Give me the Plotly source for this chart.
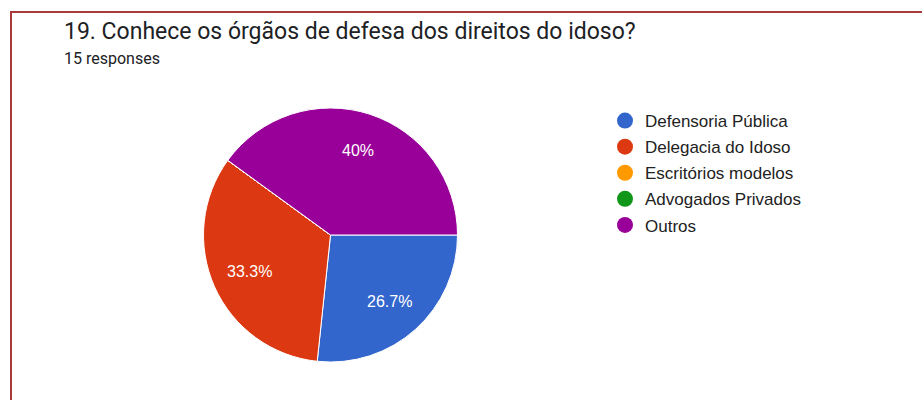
import math
import plotly.graph_objects as go

# Survey answers for question 19
labels = ["Defensoria Pública", "Delegacia do Idoso", "Escritórios modelos",
          "Advogados Privados", "Outros"]
counts = [4, 5, 0, 0, 6]
colors = ["#3366CC", "#DC3912", "#FF9900", "#109618", "#990099"]
title_text = "19. Conhece os órgãos de defesa dos direitos do idoso?"
subtitle_text = "15 responses"

W, H = 922, 400
cx, cy, r = 330.5, 235, 127  # pie centre / radius in px (top-left origin)
label_dist = 0.7            # percent labels sit at 70% of the radius

fig = go.Figure()

fig.add_trace(go.Pie(
    labels=labels,
    values=counts,
    marker=dict(colors=colors, line=dict(color="white", width=1)),
    sort=False,
    direction="clockwise",
    rotation=90,
    textinfo="none",
    showlegend=False,
    hoverinfo="label+value+percent",
    domain=dict(x=[(cx - r) / W, (cx + r) / W], y=[(H - cy - r) / H, (H - cy + r) / H]),
))

# Percent labels placed at each slice's mid-angle (clockwise from 3 o'clock)
total = sum(counts)
annotations = []
cum = 0
for v in counts:
    if v > 0:
        frac = v / total
        mid = (cum + v / 2) / total * 2 * math.pi
        px = cx + label_dist * r * math.cos(mid)
        py = cy + label_dist * r * math.sin(mid)
        annotations.append(dict(
            text=f"{frac * 100:.1f}".rstrip("0").rstrip(".") + "%",
            x=px / W, y=1 - py / H, xref="paper", yref="paper",
            xanchor="center", yanchor="middle", showarrow=False,
            font=dict(family="Liberation Sans, Arial", size=16, color="white"),
        ))
    cum += v

# Circular legend entries
for i, (lab, col) in enumerate(zip(labels, colors)):
    fig.add_trace(go.Scatter(
        x=[None], y=[None], mode="markers", name=lab,
        marker=dict(symbol="circle", size=16, color=col),
        legendgroup=f"g{i}", showlegend=True,
    ))

annotations += [
    dict(text=title_text, x=62 / W, y=1 - 31 / H, xref="paper", yref="paper",
         xanchor="left", yanchor="middle", showarrow=False,
         font=dict(family="Roboto, Arial", size=23, color="#202124")),
    dict(text=subtitle_text, x=62 / W, y=1 - 59 / H, xref="paper", yref="paper",
         xanchor="left", yanchor="middle", showarrow=False,
         font=dict(family="Roboto, Arial", size=16, color="#202124")),
]

fig.update_layout(
    width=W, height=H,
    margin=dict(l=0, r=0, t=0, b=0),
    paper_bgcolor="white",
    plot_bgcolor="white",
    xaxis=dict(visible=False),
    yaxis=dict(visible=False),
    legend=dict(
        x=605 / W, y=1 - 103 / H, xanchor="left", yanchor="top",
        font=dict(family="Liberation Sans, Arial", size=17, color="#222222"),
        tracegroupgap=1, itemsizing="trace", bgcolor="rgba(0,0,0,0)",
    ),
    annotations=annotations,
    shapes=[
        dict(type="rect", xref="paper", yref="paper",
             x0=11 / W, x1=1.02, y0=-0.05, y1=1 - 12 / H,
             line=dict(color="#A83A3A", width=2), fillcolor="rgba(0,0,0,0)"),
    ],
)

fig.write_html("out.html")
